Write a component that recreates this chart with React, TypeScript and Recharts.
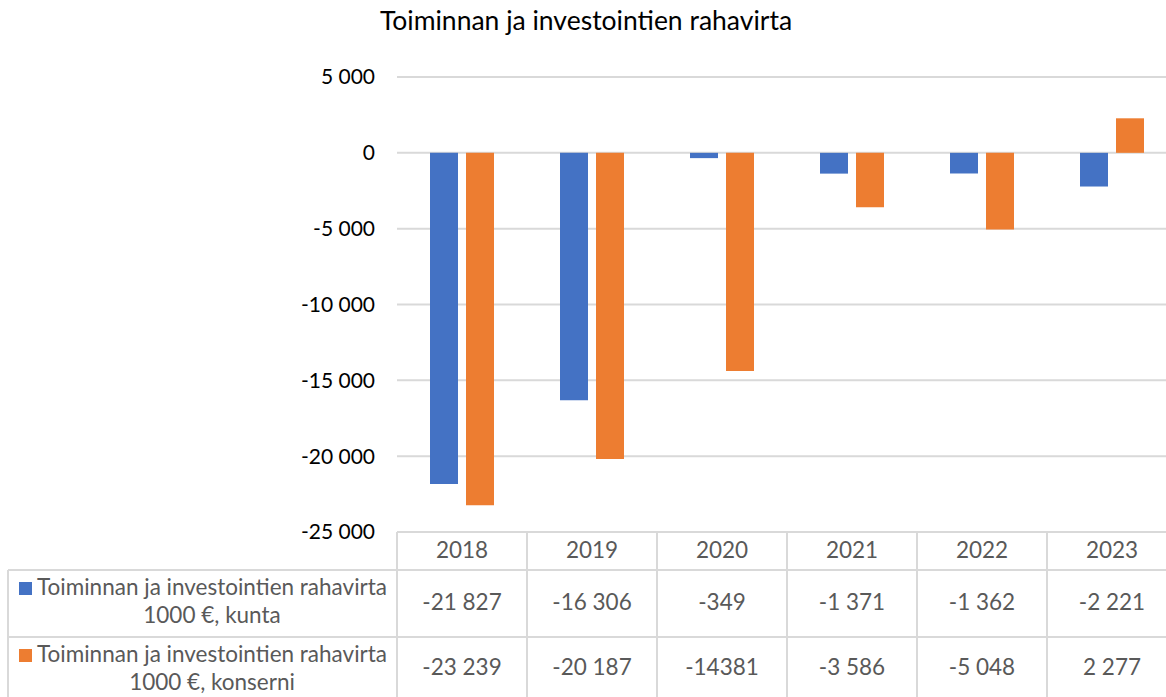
import React from "react";
import { BarChart, Bar, XAxis, YAxis, CartesianGrid } from "recharts";

const years = ["2018", "2019", "2020", "2021", "2022", "2023"];
const kunta = [-21827, -16306, -349, -1371, -1362, -2221];
const konserni = [-23239, -20187, -14381, -3586, -5048, 2277];
const kuntaLabels = ["-21 827", "-16 306", "-349", "-1 371", "-1 362", "-2 221"];
const konserniLabels = ["-23 239", "-20 187", "-14381", "-3 586", "-5 048", "2 277"];
const yTicks = [5000, 0, -5000, -10000, -15000, -20000, -25000];
const seriesNames = [
  ["Toiminnan ja investointien rahavirta", "1000 €, kunta"],
  ["Toiminnan ja investointien rahavirta", "1000 €, konserni"],
];
const title = "Toiminnan ja investointien rahavirta";

const data = years.map((y, i) => ({ year: y, kunta: kunta[i], konserni: konserni[i] }));

const FONT = "Lato, 'Open Sans', sans-serif";
const GRID = "#d9d9d9";
const TEXT = "#595959";
const BLUE = "#4472C4";
const ORANGE = "#ED7D31";
const CELL_FS = 22.5;

const fmt = (v: number) => {
  const s = Math.abs(v).toString().replace(/\B(?=(\d{3})+(?!\d))/g, " ");
  return (v < 0 ? "-" : "") + s;
};

const TableTick = (props: any) => {
  const { x, y, payload, index } = props;
  const w = 780 / 6;
  const l = x - w / 2;
  const r = x + w / 2;
  return (
    <g>
      <line x1={l} x2={r} y1={y} y2={y} stroke={GRID} strokeWidth={2} />
      <line x1={l} x2={r} y1={y + 38} y2={y + 38} stroke={GRID} strokeWidth={2} />
      <line x1={l} x2={r} y1={y + 105} y2={y + 105} stroke={GRID} strokeWidth={2} />
      <line x1={l} x2={l} y1={y} y2={697} stroke={GRID} strokeWidth={2} />
      <line x1={r} x2={r} y1={y} y2={697} stroke={GRID} strokeWidth={2} />
      <text x={x} y={y + 25.5} textAnchor="middle" fill={TEXT} fontSize={CELL_FS} fontFamily={FONT}>
        {payload.value}
      </text>
      <text x={x} y={y + 77.5} textAnchor="middle" fill={TEXT} fontSize={CELL_FS} fontFamily={FONT}>
        {kuntaLabels[index]}
      </text>
      <text x={x} y={y + 143} textAnchor="middle" fill={TEXT} fontSize={CELL_FS} fontFamily={FONT}>
        {konserniLabels[index]}
      </text>
    </g>
  );
};

export default function App() {
  return (
    <div
      style={{
        position: "absolute",
        left: 0,
        top: 0,
        width: 1166,
        height: 697,
        background: "#fff",
        overflow: "hidden",
      }}
    >
      <BarChart
        width={1177}
        height={697}
        data={data}
        margin={{ top: 77, right: 0, left: 0, bottom: 0 }}
        barGap={8}
        barSize={28}
      >
        <CartesianGrid vertical={false} stroke={GRID} strokeWidth={2} />
        <YAxis
          width={397}
          domain={[-25000, 5000]}
          ticks={yTicks}
          interval={0}
          axisLine={false}
          tickLine={false}
          tickMargin={16}
          tickFormatter={fmt}
          tick={{ fill: "#000", fontSize: 21, fontFamily: FONT }}
        />
        <XAxis
          dataKey="year"
          height={165}
          axisLine={false}
          tickLine={false}
          tickSize={0}
          tickMargin={0}
          interval={0}
          tick={<TableTick />}
        />
        <Bar dataKey="kunta" fill={BLUE} isAnimationActive={false} />
        <Bar dataKey="konserni" fill={ORANGE} isAnimationActive={false} />
      </BarChart>
      <svg
        style={{ position: "absolute", left: 0, top: 0, pointerEvents: "none" }}
        width={1166}
        height={697}
      >
        <text x={586} y={30} textAnchor="middle" fill="#000" fontSize={26.5} fontFamily={FONT}>
          {title}
        </text>
        <line x1={8} x2={397} y1={570} y2={570} stroke={GRID} strokeWidth={2} />
        <line x1={8} x2={397} y1={637} y2={637} stroke={GRID} strokeWidth={2} />
        <line x1={8} x2={8} y1={570} y2={697} stroke={GRID} strokeWidth={2} />
        {seriesNames.map((lines, i) => {
          const top = i === 0 ? 570 : 637;
          return (
            <g key={i}>
              <rect x={19} y={top + 12} width={13} height={13} fill={i === 0 ? BLUE : ORANGE} />
              <text x={212} y={top + 25} textAnchor="middle" fill={TEXT} fontSize={CELL_FS} fontFamily={FONT}>
                {lines[0]}
              </text>
              <text x={212} y={top + 53} textAnchor="middle" fill={TEXT} fontSize={CELL_FS} fontFamily={FONT}>
                {lines[1]}
              </text>
            </g>
          );
        })}
      </svg>
    </div>
  );
}
